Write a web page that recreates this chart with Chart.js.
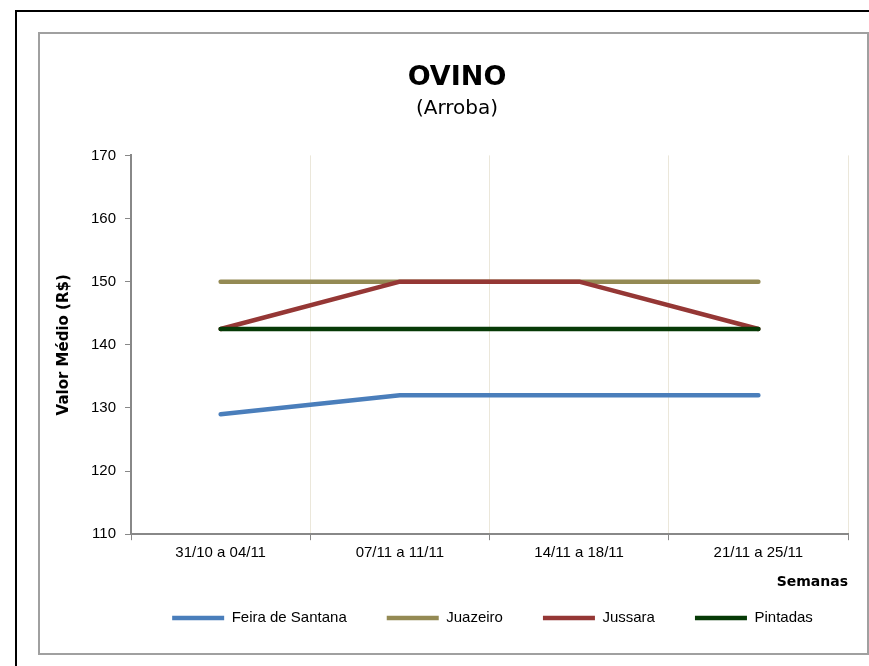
<!DOCTYPE html>
<html>
<head>
<meta charset="utf-8">
<script src="https://cdn.jsdelivr.net/npm/chart.js@4"></script>
<style>
  html, body { margin: 0; padding: 0; background: #fff; }
  #wrap { position: relative; width: 869px; height: 666px; overflow: hidden; }
  #outer { position: absolute; left: 15px; top: 10px; width: 900px; height: 700px; border-left: 2px solid #000; border-top: 2px solid #000; }
  #frame { position: absolute; left: 38px; top: 32px; width: 827px; height: 619px; border: 2px solid #a0a0a0; }
  #c { position: absolute; left: 0; top: 0; }
</style>
</head>
<body>
<div id="wrap">
  <div id="outer"></div>
  <div id="frame"></div>
  <canvas id="c" width="869" height="666"></canvas>
</div>
<script>
// Semanas
const semanas = ['31/10 a 04/11', '07/11 a 11/11', '14/11 a 18/11', '21/11 a 25/11'];

// Valor médio da arroba (R$)
const feiraDeSantana = [129, 132, 132, 132];
const juazeiro = [150, 150, 150, 150];
const jussara = [142.5, 150, 150, 142.5];
const pintadas = [142.5, 142.5, 142.5, 142.5];

const yTicks = [110, 120, 130, 140, 150, 160, 170];

function serie(label, data, color, order) {
    return {
        label: label,
        data: data,
        borderColor: color,
        backgroundColor: color,
        borderWidth: 4.5,
        borderCapStyle: 'round',
        borderJoinStyle: 'round',
        pointRadius: 0,
        pointHoverRadius: 0,
        pointStyle: 'line',
        tension: 0,
        order: order
    };
}

// reposiciona legenda e títulos depois do layout
const ajuste = {
    id: 'ajuste',
    afterLayout(chart) {
        const lg = chart.legend;
        const h = lg.bottom - lg.top;
        lg.top = 570.5;
        lg.bottom = lg.top + h;
        lg.left += 43.5;
        lg.right += 43.5;
        chart.boxes.forEach(b => {
            if (b.options && (b.options.text === 'OVINO' || b.options.text === '(Arroba)')) {
                b.left += 8;
                b.right += 8;
            }
        });
    }
};

const ctx = document.getElementById('c').getContext('2d');

new Chart(ctx, {
    type: 'line',
    data: {
        labels: semanas,
        datasets: [
            serie('Feira de Santana', feiraDeSantana, '#4a7ebb', 3),
            serie('Juazeiro', juazeiro, '#948a54', 2),
            serie('Jussara', jussara, '#953735', 1),
            serie('Pintadas', pintadas, '#063a06', 0)
        ]
    },
    options: {
        responsive: false,
        animation: false,
        layout: {
            padding: { top: 45, left: 50, right: 21, bottom: 10 }
        },
        scales: {
            x: {
                offset: true,
                grid: {
                    offset: true,
                    color: '#ebe7da',
                    tickColor: '#888',
                    tickLength: 6
                },
                border: { color: '#888', width: 2 },
                ticks: {
                    color: '#000',
                    padding: 4,
                    font: { family: 'Liberation Sans', size: 15 }
                },
                title: {
                    display: true,
                    text: 'Semanas',
                    align: 'end',
                    color: '#000',
                    padding: { top: 8, bottom: 0 },
                    font: { family: 'DejaVu Sans', size: 14, weight: 'bold' }
                }
            },
            y: {
                min: 110,
                max: 170,
                afterBuildTicks: (axis) => { axis.ticks = yTicks.map(v => ({ value: v })); },
                grid: {
                    drawOnChartArea: false,
                    color: '#888',
                    tickLength: 6
                },
                border: { color: '#888', width: 2 },
                ticks: {
                    color: '#000',
                    padding: 9,
                    font: { family: 'Liberation Sans', size: 15 }
                },
                title: {
                    display: true,
                    text: 'Valor Médio (R$)',
                    color: '#000',
                    padding: { top: 5, bottom: 9 },
                    font: { family: 'DejaVu Sans', size: 15, weight: 'bold' }
                }
            }
        },
        plugins: {
            title: {
                display: true,
                text: 'OVINO',
                color: '#000',
                padding: { top: 17, bottom: 0 },
                font: { family: 'DejaVu Sans', size: 27, weight: 'bold' }
            },
            subtitle: {
                display: true,
                text: '(Arroba)',
                color: '#000',
                padding: { top: 2, bottom: 35 },
                font: { family: 'DejaVu Sans', size: 20 }
            },
            legend: {
                position: 'bottom',
                reverse: true,
                labels: {
                    usePointStyle: true,
                    pointStyleWidth: 52,
                    boxHeight: 5,
                    padding: 40,
                    color: '#000',
                    font: { family: 'Liberation Sans', size: 15 }
                }
            },
            tooltip: { enabled: false }
        }
    },
    plugins: [ajuste]
});
</script>
</body>
</html>
